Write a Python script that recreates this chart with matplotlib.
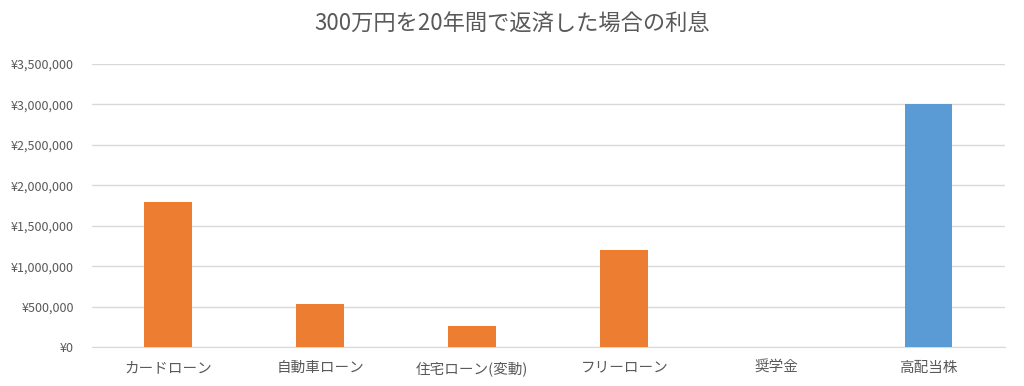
import matplotlib
matplotlib.use('Agg')
import matplotlib.pyplot as plt
from matplotlib.ticker import FuncFormatter, MultipleLocator

plt.rcParams['font.family'] = ['Noto Sans CJK JP', 'DejaVu Sans']

categories = ['カードローン', '自動車ローン', '住宅ローン(変動)', 'フリーローン', '奨学金', '高配当株']
interest = [1800000, 535000, 265000, 1200000, 0, 3000000]
bar_colors = ['#ED7D31', '#ED7D31', '#ED7D31', '#ED7D31', '#ED7D31', '#5B9BD5']

fig = plt.figure(figsize=(10.24, 3.86), dpi=100)
ax = fig.add_axes([0.09, 0.101, 0.891, 0.733])

x = range(len(categories))
ax.bar(x, interest, width=0.315, color=bar_colors, zorder=3)

ax.set_xlim(-0.5, len(categories) - 0.5)
ax.set_ylim(0, 3500000)
ax.yaxis.set_major_locator(MultipleLocator(500000))
ax.yaxis.set_major_formatter(FuncFormatter(lambda v, p: '¥{:,.0f}'.format(v)))
ax.set_xticks(list(x))
ax.set_xticklabels(categories)

ax.grid(axis='y', color='#D9D9D9', linewidth=1, zorder=0)
for s in ['top', 'right', 'left']:
    ax.spines[s].set_visible(False)
ax.spines['bottom'].set_color('#D9D9D9')
ax.tick_params(axis='both', length=0, colors='#595959')
ax.tick_params(axis='y', pad=13, labelsize=9)
ax.tick_params(axis='x', pad=10, labelsize=10.5)

fig.suptitle('300万円を20年間で返済した場合の利息', y=0.97, fontsize=16, color='#595959')

fig.savefig('out.png', dpi=100)
